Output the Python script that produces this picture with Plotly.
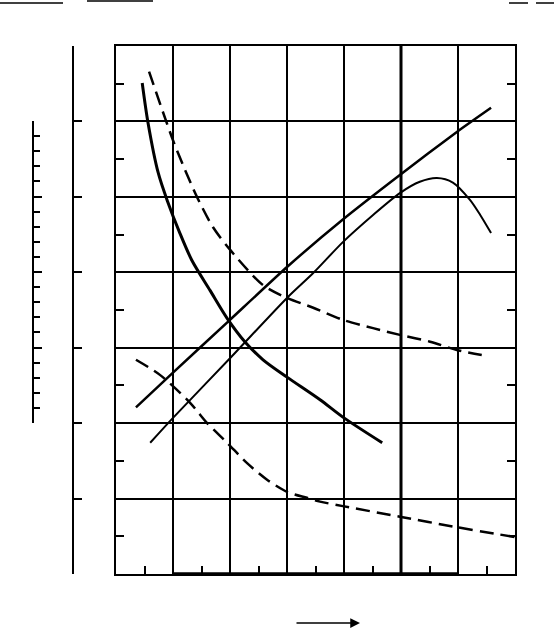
import plotly.graph_objects as go

# Curve data, x in grid units 0..7, y in grid units 0..7
c1_x = [0.46, 0.56, 0.74, 0.90, 1.12, 1.33, 1.65, 1.95, 2.26, 2.58, 3.00, 3.58, 3.98, 4.67]
c1_y = [6.51, 5.99, 5.32, 4.95, 4.52, 4.16, 3.76, 3.39, 3.08, 2.84, 2.61, 2.31, 2.08, 1.74]

c2_x = [0.58, 1.00, 1.21, 1.42, 1.70, 2.00, 2.58, 3.00, 3.46, 3.98, 4.51, 4.98, 5.51, 5.98, 6.51]
c2_y = [6.66, 5.75, 5.36, 5.00, 4.60, 4.30, 3.83, 3.66, 3.53, 3.37, 3.26, 3.17, 3.08, 2.97, 2.89]

c3_x = [0.35, 1.00, 2.00, 3.00, 3.98, 4.98, 5.98, 6.58]
c3_y = [2.21, 2.67, 3.37, 4.07, 4.70, 5.29, 5.86, 6.18]

c4_x = [0.60, 1.00, 2.00, 3.00, 3.46, 3.98, 4.51, 4.98, 5.33, 5.63, 5.91, 6.21, 6.39, 6.58]
c4_y = [1.74, 2.07, 2.86, 3.66, 3.99, 4.40, 4.76, 5.05, 5.20, 5.25, 5.19, 4.96, 4.76, 4.52]

c5_x = [0.35, 0.77, 1.30, 1.60, 1.95, 2.30, 2.65, 3.00, 3.35, 3.58, 3.98, 4.98, 5.98, 7.00]
c5_y = [2.84, 2.64, 2.27, 2.00, 1.74, 1.47, 1.25, 1.09, 1.01, 0.96, 0.90, 0.76, 0.62, 0.49]

X_RANGE = [0, 7]
Y_RANGE = [0, 7]
AUX_RANGE = [0, 20]

fig = go.Figure()
BLACK = "black"
DASH = "14px,7px"

fig.add_trace(go.Scatter(x=c1_x, y=c1_y, mode="lines",
                         line=dict(color=BLACK, width=3, shape="spline", smoothing=0.8)))
fig.add_trace(go.Scatter(x=c2_x, y=c2_y, mode="lines",
                         line=dict(color=BLACK, width=2.5, dash=DASH, shape="spline", smoothing=0.8)))
fig.add_trace(go.Scatter(x=c3_x, y=c3_y, mode="lines",
                         line=dict(color=BLACK, width=2.5, shape="spline", smoothing=0.5)))
fig.add_trace(go.Scatter(x=c4_x, y=c4_y, mode="lines",
                         line=dict(color=BLACK, width=2, shape="spline", smoothing=0.8)))
fig.add_trace(go.Scatter(x=c5_x, y=c5_y, mode="lines",
                         line=dict(color=BLACK, width=2.5, dash=DASH, shape="spline", smoothing=0.8)))
# carriers for the auxiliary scales
fig.add_trace(go.Scatter(x=[None], y=[None], yaxis="y2", showlegend=False))
fig.add_trace(go.Scatter(x=[None], y=[None], yaxis="y3", showlegend=False))

L = 20
R = 39
PW = 554 - L - R
x_dom0 = (116 - L) / PW

fig.update_layout(
    width=554, height=629,
    margin=dict(l=L, r=R, t=46, b=55),
    paper_bgcolor="white", plot_bgcolor="rgba(0,0,0,0)",
    showlegend=False,
    xaxis=dict(domain=[x_dom0, 1], range=X_RANGE, dtick=1, tick0=0,
               showgrid=True, gridcolor=BLACK, gridwidth=1.5, zeroline=False,
               showline=True, linecolor=BLACK, linewidth=1.5, mirror=True,
               ticks="inside", ticklen=8, tickwidth=1.5, tickcolor=BLACK,
               showticklabels=False,
               minor=dict(ticks="inside", ticklen=8, tickwidth=1.5, tickcolor=BLACK,
                          tick0=0.5, dtick=1, showgrid=False)),
    yaxis=dict(domain=[0, 1], range=Y_RANGE, dtick=1, tick0=0,
               showgrid=True, gridcolor=BLACK, gridwidth=1.5, zeroline=False,
               showline=True, linecolor=BLACK, linewidth=1.5, mirror="ticks",
               ticks="inside", ticklen=8, tickwidth=1.5, tickcolor=BLACK,
               showticklabels=False,
               minor=dict(ticks="inside", ticklen=8, tickwidth=1.5, tickcolor=BLACK,
                          tick0=0.5, dtick=1, showgrid=False)),
    yaxis2=dict(overlaying="y", anchor="free", position=(73 - L) / PW, side="left",
                range=Y_RANGE, dtick=1, showgrid=False, zeroline=False,
                showline=True, linecolor=BLACK, linewidth=1.5,
                ticks="inside", ticklen=8, tickwidth=1.5, tickcolor=BLACK,
                showticklabels=False),
    yaxis3=dict(anchor="free", position=(33 - L) / PW, side="left",
                domain=[(574 - 423) / 528, (574 - 121) / 528],
                range=AUX_RANGE, dtick=5, showgrid=False, zeroline=False,
                showline=True, linecolor=BLACK, linewidth=1.5,
                ticks="inside", ticklen=8, tickwidth=1.5, tickcolor=BLACK,
                showticklabels=False,
                minor=dict(ticks="inside", ticklen=6, tickwidth=1.5, tickcolor=BLACK,
                           dtick=1, showgrid=False)),
)

# heavy bottom segment and heavy vertical line
fig.add_shape(type="line", xref="x", yref="y", x0=1, x1=6, y0=0, y1=0,
              line=dict(color=BLACK, width=3.5))
fig.add_shape(type="line", xref="x", yref="y", x0=5, x1=5, y0=0, y1=7,
              line=dict(color=BLACK, width=3))

# stray rule fragments along the top edge
def px_x(p):
    return (p - L) / PW

def px_y(p):
    return (574 - p) / 528

for (a, b, yy) in [(0, 63, 3), (87, 153, 1), (509, 528, 3), (536, 554, 3)]:
    fig.add_shape(type="line", xref="paper", yref="paper",
                  x0=px_x(a), x1=px_x(b), y0=px_y(yy), y1=px_y(yy),
                  line=dict(color=BLACK, width=1.5))

# arrow below the axis
fig.add_annotation(xref="paper", yref="paper", x=px_x(360), y=px_y(623),
                   ax=-65, ay=0, text="", showarrow=True,
                   arrowhead=2, arrowsize=1.3, arrowwidth=1.5, arrowcolor=BLACK)

fig.write_html("out.html", config={"displayModeBar": False},
               post_script="document.body.style.margin='0px';")
